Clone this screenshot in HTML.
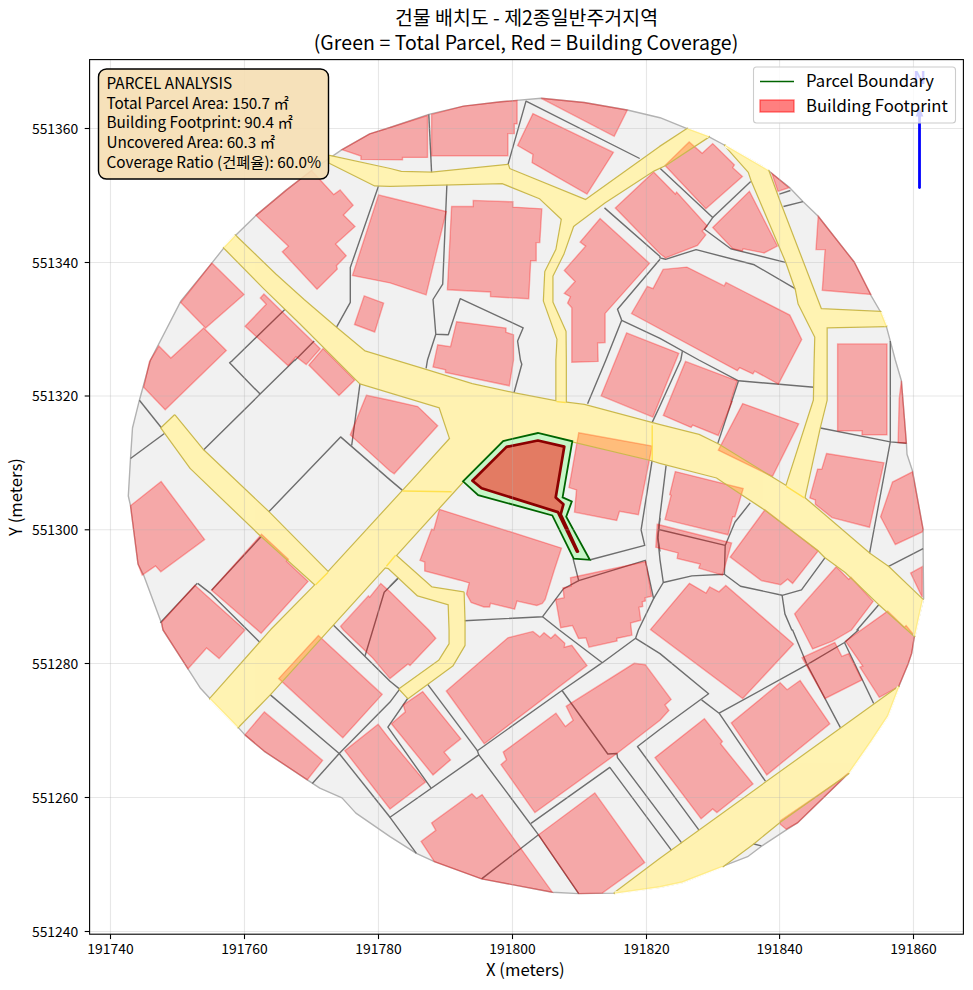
<!DOCTYPE html>
<html><head><meta charset="utf-8"><title>건물 배치도</title>
<style>
html,body{margin:0;padding:0;background:#fff;}
body{width:973px;height:990px;overflow:hidden;position:relative;font-family:'Noto Sans CJK KR','Liberation Sans',sans-serif;}
svg{position:absolute;left:0;top:0;}
text{font-family:'Noto Sans CJK KR','Liberation Sans',sans-serif;fill:#000;}
.bl{fill:rgba(255,0,0,0.3);stroke:rgba(255,0,0,0.3);stroke-width:1.4;stroke-linejoin:miter;}
.rds{fill:#fff3b2;stroke:#c9b850;stroke-width:2.9;stroke-linejoin:round;}
.rdf{fill:#fff3b2;stroke:#fff3b2;stroke-width:0.3;}
.pl{fill:none;stroke:#6e6e6e;stroke-width:1.4;stroke-linejoin:round;stroke-linecap:butt;}
.rl{fill:none;stroke:#ffe14d;stroke-width:1.4;}
.gr{stroke:rgba(176,176,176,0.3);stroke-width:1.1;fill:none;}
.tk{stroke:#000;stroke-width:1.1;}
.tl{font-size:13.9px;letter-spacing:0px;}
</style></head><body>
<svg width="973" height="990" viewBox="0 0 973 990">
<rect width="973" height="990" fill="#fff"/>
<defs><clipPath id="ax"><rect x="89.6" y="59.6" width="873.8" height="874.6"/></clipPath></defs>
<g clip-path="url(#ax)">

<polygon points="390.0,127.5 428.8,114.4 463.5,106.1 501.0,101.7 541.2,98.3 584.2,102.5 627.3,110.0 660.0,117.7 687.7,128.8 708.6,136.6 725.2,145.5 768.2,170.5 789.0,187.1 802.9,201.6 818.2,216.3 854.2,262.0 870.9,295.3 880.6,312.0 886.2,325.9 890.3,341.1 895.3,360.0 901.4,380.8 906.4,443.2 907.0,454.3 912.5,471.0 923.1,529.3 923.1,548.7 923.6,598.6 914.5,635.7 911.7,653.2 908.0,664.3 898.6,686.9 887.5,716.0 870.9,741.0 848.7,772.9 840.4,781.2 797.4,822.9 786.3,829.8 761.5,846.2 747.6,856.7 722.4,866.4 682.2,882.0 660.0,886.7 614.8,893.1 578.7,893.6 552.3,892.2 481.6,878.9 434.4,861.7 416.4,853.4 390.0,836.7 355.9,813.1 342.0,797.9 319.8,788.2 307.3,779.8 264.3,751.3 244.9,734.9 237.9,727.1 210.2,698.8 200.5,688.3 188.0,668.8 163.0,630.0 161.6,623.6 143.6,575.1 138.0,564.0 130.5,505.7 128.3,496.0 130.5,458.5 132.5,428.0 139.4,400.2 150.5,360.0 181.0,300.9 211.6,263.4 224.1,247.6 235.2,235.7 256.0,215.4 286.5,189.9 311.5,170.5 342.0,149.7 369.7,133.8" fill="#f1f1f1" stroke="#b2b2b2" stroke-width="1.4" stroke-linejoin="round"/>
<polyline class="pl" points="378.6,185.7 350.3,267.6 350.3,302.3 336.4,327.3"/>
<polyline class="pl" points="285.1,309.2 232.4,360.6 229.6,362.8 260.1,394.1"/>
<polyline class="pl" points="314.2,341.1 294.8,360.6 294.8,360.0 260.1,394.1 203.2,450.2"/>
<polyline class="pl" points="428.8,114.4 431.6,172.7"/>
<polyline class="pl" points="507.9,164.9 526.0,101.1 639.7,158.5"/>
<polyline class="pl" points="446.9,184.3 442.7,284.2 433.0,299.5 435.8,334.2 448.3,334.7 460.2,298.7 523.2,327.8 517.6,341.1 520.4,360.0 521.8,364.2 514.0,392.7"/>
<polyline class="pl" points="435.8,334.2 427.5,360.0 426.1,368.3"/>
<polyline class="pl" points="604.5,207.9 660.0,256.5 660.0,257.9 665.5,259.3 696.1,249.6 754.3,264.8 796.0,289.2"/>
<polyline class="pl" points="660.0,168.3 712.7,217.6 704.4,229.3 730.8,248.7 786.3,262.6"/>
<polyline class="pl" points="712.7,217.6 750.7,181.6"/>
<polyline class="pl" points="660.0,259.3 617.5,309.2 621.7,320.3 660.0,338.4 698.8,360.0 698.8,360.0 738.5,380.8 814.0,387.2"/>
<polyline class="pl" points="621.7,320.3 605.9,360.0 587.6,403.8"/>
<polyline class="pl" points="779.3,194.1 790.4,190.5"/>
<polyline class="pl" points="783.5,206.5 802.9,201.6"/>
<polyline class="pl" points="890.3,341.1 890.3,360.0 890.3,441.9 869.5,553.7"/>
<polyline class="pl" points="139.4,400.2 161.6,428.0"/>
<polyline class="pl" points="130.5,458.5 164.4,433.5"/>
<polyline class="pl" points="360.0,383.6 351.7,445.5"/>
<polyline class="pl" points="268.5,512.1 340.6,436.9 390.0,479.9 390.0,479.9 402.5,490.4"/>
<polyline class="pl" points="197.7,583.4 210.2,593.1 261.5,643.9"/>
<polyline class="pl" points="261.5,536.2 211.6,590.3"/>
<polyline class="pl" points="390.0,586.2 398.3,577.8"/>
<polyline class="pl" points="399.0,577.4 384.2,592.2 365.1,655.7"/>
<polyline class="pl" points="682.4,351.2 680.8,360.0 660.0,405.8 652.2,422.4 652.2,426.6"/>
<polyline class="pl" points="652.2,459.9 641.1,529.8 644.7,545.4 590.3,559.8"/>
<polyline class="pl" points="573.1,558.7 578.7,580.6 645.3,560.3 653.6,598.6 638.4,630.0 635.6,638.3 602.3,662.7 562.0,690.5 477.4,750.7 478.8,754.9 390.0,817.3 416.4,853.4"/>
<polyline class="pl" points="578.7,580.6 563.4,588.9 542.6,616.7 464.4,620.8"/>
<polyline class="pl" points="542.6,616.7 559.3,630.0 559.3,630.0 602.3,662.7"/>
<polyline class="pl" points="660.0,518.2 657.8,537.6 660.0,551.5"/>
<polyline class="pl" points="738.5,380.8 717.4,444.6"/>
<polyline class="pl" points="820.4,428.0 890.3,441.9 906.4,443.2"/>
<polyline class="pl" points="666.1,465.4 660.0,515.4 657.8,537.6 660.0,559.8 663.3,582.5"/>
<polyline class="pl" points="657.8,529.3 725.2,545.4 724.4,574.2 691.9,575.9 663.3,582.5 653.6,598.6"/>
<polyline class="pl" points="724.4,574.2 740.5,586.2 782.1,595.3 801.5,589.8 825.1,557.6"/>
<polyline class="pl" points="750.2,502.9 734.9,522.3 725.2,545.4"/>
<polyline class="pl" points="782.1,595.3 784.9,613.9 791.8,630.0 792.6,630.0 807.1,664.7 840.4,727.7"/>
<polyline class="pl" points="923.1,548.7 888.1,566.7"/>
<polyline class="pl" points="879.2,604.2 857.0,630.0 858.4,630.0 844.5,642.5 807.1,664.7 719.1,713.2"/>
<polyline class="pl" points="269.8,694.4 339.2,753.5 390.0,702.1 390.0,702.1 399.7,689.1"/>
<polyline class="pl" points="339.2,753.5 312.3,783.5"/>
<polyline class="pl" points="339.2,753.5 390.0,817.3 390.0,817.3"/>
<polyline class="pl" points="333.3,625.1 390.0,681.3 399.7,689.1"/>
<polyline class="pl" points="427.5,684.1 477.4,750.7"/>
<polyline class="pl" points="408.0,698.0 387.9,727.2 431.1,788.2"/>
<polyline class="pl" points="478.8,754.9 538.5,834.8 578.7,893.6"/>
<polyline class="pl" points="538.5,834.8 481.6,878.9"/>
<polyline class="pl" points="531.0,823.4 609.8,767.4 671.7,850.6"/>
<polyline class="pl" points="562.0,690.5 607.8,754.0 617.0,753.5 617.5,757.6 682.2,843.7"/>
<polyline class="pl" points="660.0,729.3 637.5,746.5 698.8,829.8"/>
<polyline class="pl" points="635.6,638.3 660.0,653.6 708.6,693.8 660.0,729.3"/>
<polyline class="pl" points="701.6,699.9 719.1,713.2 765.4,781.2"/>
<polyline class="pl" points="844.5,642.5 873.7,703.5"/>
<polyline class="pl" points="753.0,843.7 761.3,845.9"/>
<polyline class="pl" points="197.3,583.3 160.3,622.7"/>
<polygon points="329.5,156.0 390.0,169.1 401.1,171.9 431.6,172.7 507.9,164.9 509.3,169.1 585.6,200.2 660.0,146.9 687.7,128.8 708.6,136.6 665.5,164.9 653.6,170.5 604.5,202.4 573.1,226.0 562.0,219.0 539.8,198.2 502.4,183.0 390.0,185.7 374.5,185.2 329.5,162.7" fill="#fff" stroke="#fff" stroke-width="0.4"/>
<polygon points="564.8,212.1 574.5,219.0 573.1,226.0 563.4,253.7 552.3,275.9 552.3,302.3 565.4,331.4 565.7,360.0 565.7,402.5 556.5,401.6 556.5,360.0 557.6,339.2 544.0,300.9 545.4,271.8 556.5,249.6 562.0,219.0" fill="#fff" stroke="#fff" stroke-width="0.4"/>
<polygon points="235.2,235.7 275.4,274.5 303.7,300.0 336.1,327.7 364.7,351.4 425.8,369.9 472.0,384.2 513.5,393.3 556.5,401.6 584.2,405.0 660.0,425.2 698.8,434.9 718.3,444.6 786.3,486.3 804.3,497.9 869.5,553.7 888.1,566.7 922.4,599.6 914.5,635.7 879.2,604.2 845.9,572.3 825.1,557.0 818.2,550.1 765.4,509.8 728.0,484.9 716.9,477.4 660.0,462.7 650.8,459.9 572.3,441.3 537.9,433.0 503.2,441.0 463.0,481.3 450.2,438.7 439.7,407.3 360.1,383.2 300.0,323.1 264.3,288.4 224.1,247.6" fill="#fff" stroke="#fff" stroke-width="0.4"/>
<polygon points="450.2,438.7 412.8,480.0 328.1,572.3 315.6,584.8 271.2,630.0 210.2,698.8 237.9,727.1 269.8,694.4 328.1,630.0 463.0,481.3 481.6,443.2" fill="#fff" stroke="#fff" stroke-width="0.4"/>
<polygon points="161.6,428.0 174.7,415.5 203.2,450.2 268.5,512.1 328.1,572.3 315.6,584.8 260.1,534.8 190.8,468.2" fill="#fff" stroke="#fff" stroke-width="0.4"/>
<polygon points="383.1,564.0 392.8,552.9 431.6,587.5 463.5,592.5 464.4,620.8 464.4,630.0 464.4,645.3 452.4,665.5 408.0,698.0 399.7,689.1 439.4,660.5 449.7,643.9 449.7,630.0 448.8,604.2 417.7,595.3 388.6,568.1 383.1,566.7" fill="#fff" stroke="#fff" stroke-width="0.4"/>
<polygon points="725.2,145.5 768.2,170.5 779.3,201.0 820.9,309.2 880.6,312.0 886.2,325.9 826.5,327.3 826.5,360.0 826.5,400.2 819.6,428.0 804.3,497.9 786.3,486.3 814.0,400.2 814.8,360.0 815.4,337.0 798.7,303.7 796.0,289.8 786.3,262.0 751.6,180.2 748.8,171.9" fill="#fff" stroke="#fff" stroke-width="0.4"/>
<polygon points="660.0,858.9 898.6,686.9 887.5,716.0 870.9,741.0 848.7,772.9 780.2,821.5 753.0,843.7 722.4,866.4 682.2,882.0 660.0,886.7 614.8,893.1" fill="#fff" stroke="#fff" stroke-width="0.4"/>
<polygon class="bl" points="256.0,215.4 286.5,189.9 311.5,170.5 333.7,194.6 340.1,189.9 353.1,205.2 343.4,214.9 355.0,226.5 335.6,244.0 346.2,255.7 336.4,265.7 337.3,269.0 317.0,289.2 282.3,251.8 288.4,246.2"/>
<polygon class="bl" points="211.9,263.1 244.0,294.5 205.6,328.0 180.7,302.5"/>
<polygon class="bl" points="364.2,295.9 383.6,303.1 374.7,332.0 354.5,324.5"/>
<polygon class="bl" points="342.0,149.7 369.7,133.8 390.0,127.5 427.5,115.5 427.5,157.4 402.5,157.4 402.5,159.9 360.9,159.4 360.9,156.0"/>
<polygon class="bl" points="378.6,194.9 390.0,197.7 446.3,211.5 426.1,294.8 390.0,282.9 352.5,275.4"/>
<polygon class="bl" points="431.6,114.4 463.5,106.1 501.0,101.7 517.1,100.5 517.1,123.9 514.3,123.9 514.3,133.6 507.9,133.6 507.9,155.8 431.6,155.8"/>
<polygon class="bl" points="532.9,113.6 613.4,152.4 587.0,194.1 532.1,162.7 532.9,154.4 517.6,145.5"/>
<polygon class="bl" points="541.2,98.3 584.2,102.5 627.3,110.0 614.2,136.3"/>
<polygon class="bl" points="451.6,206.5 473.2,206.5 473.2,200.4 512.9,201.8 512.9,207.1 541.8,208.8 539.8,242.6 536.2,242.6 536.2,260.7 530.7,260.7 528.7,298.7 490.5,296.7 490.5,292.0 447.4,289.8"/>
<polygon class="bl" points="600.1,218.5 649.5,263.4 605.1,313.4 605.1,342.5 597.6,343.1 598.1,360.0 598.1,361.4 571.8,362.2 571.8,360.0 571.8,307.8 567.6,303.1 570.4,296.7 564.3,293.4 575.1,281.5 564.3,270.4 585.6,246.2 580.1,242.1"/>
<polygon class="bl" points="456.6,321.7 506.0,328.1 506.0,332.3 513.5,334.7 513.5,360.0 509.3,385.8 445.5,372.5 445.5,369.7 433.0,366.9 437.7,344.7 450.5,346.7"/>
<polygon class="bl" points="653.6,171.9 615.3,207.9 660.0,253.7 665.5,257.9 697.5,245.4 705.8,234.9 702.2,231.0 707.2,226.0 676.6,192.1 675.3,194.1"/>
<polygon class="bl" points="626.6,332.9 678.8,353.3 652.9,417.1 601.1,395.8"/>
<polygon class="bl" points="689.1,141.9 702.2,153.3 712.7,143.6 734.4,164.9 732.7,167.7 742.4,176.6 705.8,208.8 665.0,165.5"/>
<polygon class="bl" points="749.4,191.3 777.4,246.0 764.1,252.9 743.2,248.7 742.4,250.9 732.7,248.7 712.7,227.4"/>
<polygon class="bl" points="771.8,173.2 789.0,187.7 777.9,191.3"/>
<polygon class="bl" points="818.2,216.3 854.2,262.0 870.9,294.5 822.3,290.3 825.1,249.6 816.0,249.6"/>
<polygon class="bl" points="631.5,313.5 647.3,286.4 653.0,288.6 663.1,269.4 686.9,267.1 724.2,285.9 726.0,282.5 745.7,292.5 789.8,315.1 801.7,339.5 778.4,384.0 754.7,371.1 752.9,373.9 739.6,367.7 737.3,370.7"/>
<polygon class="bl" points="837.6,343.9 887.0,343.9 887.0,434.9 862.0,434.9 862.0,430.8 837.6,430.8"/>
<polygon class="bl" points="158.9,346.0 170.9,358.0 203.7,327.9 226.3,350.5 165.2,409.8 143.7,387.2 149.4,361.8"/>
<polygon class="bl" points="161.1,481.5 204.6,539.5 160.8,571.7 155.5,565.9 142.2,575.1 138.0,564.0 130.5,505.7"/>
<polygon class="bl" points="261.5,534.3 288.4,559.2 286.5,561.2 308.1,581.4 261.1,633.2 211.6,590.3"/>
<polygon class="bl" points="194.9,585.3 244.9,630.0 219.1,658.6 206.6,648.0 188.0,668.8 163.0,630.0 161.6,622.2"/>
<polygon class="bl" points="323.1,348.6 354.8,380.0 339.0,395.4 308.9,365.1"/>
<polygon class="bl" points="263.9,294.1 320.2,348.8 306.2,364.6 296.0,356.7 288.1,365.8 245.1,326.2 266.2,304.3 260.3,297.9"/>
<polygon class="bl" points="366.4,395.2 390.0,400.2 417.7,406.6 437.7,425.8 394.2,473.8 390.0,471.0 350.3,434.9"/>
<polygon class="bl" points="380.8,583.4 390.0,591.7 428.8,630.0 435.8,638.3 410.0,665.5 408.0,663.9 390.0,678.6 372.5,657.7 343.4,630.0 340.6,626.4 368.4,595.9 369.7,597.3"/>
<polygon class="bl" points="578.7,432.7 652.2,446.0 638.4,514.8 619.5,511.2 616.7,520.4 574.5,512.1 576.5,489.9 569.0,487.6"/>
<polygon class="bl" points="439.4,509.3 561.5,548.1 554.3,570.0 545.1,599.6 542.3,603.3 536.8,605.5 517.0,601.1 514.6,609.2 490.5,603.3 489.6,607.0 484.0,607.0 471.1,602.4 466.5,594.0 469.2,582.9 460.0,580.2 424.7,570.9 424.7,562.0 420.0,560.3 431.6,529.3 433.8,529.8"/>
<polygon class="bl" points="570.5,577.7 645.8,561.5 651.6,596.2 645.1,597.7 645.4,600.9 642.3,601.8 642.7,606.4 639.0,607.3 640.8,620.3 630.6,623.1 631.9,635.1 616.8,638.4 617.1,641.0 589.0,647.1 585.9,637.9 578.5,638.4 572.4,625.5 560.7,627.7 555.7,599.6 564.0,597.7 563.1,587.9 571.1,586.1"/>
<polygon class="bl" points="685.5,361.4 737.1,380.8 730.8,401.1 732.1,401.6 718.3,435.5 692.7,425.2 691.1,427.4 663.3,415.5"/>
<polygon class="bl" points="742.7,403.6 798.7,423.8 772.4,476.5 718.3,450.2"/>
<polygon class="bl" points="901.4,380.8 906.4,443.2 898.1,442.7 899.2,398.8"/>
<polygon class="bl" points="826.5,453.5 883.9,462.7 869.5,527.3 832.0,517.6 815.4,504.3 815.4,500.1 809.8,497.9 817.6,469.1 821.8,469.1"/>
<polygon class="bl" points="912.5,471.8 923.1,529.3 922.2,532.0 895.3,544.5 880.6,516.8 892.5,482.1"/>
<polygon class="bl" points="675.3,471.6 743.2,488.5 734.9,516.8 732.7,516.8 728.0,534.8 665.0,519.6 671.1,495.4 669.7,494.6"/>
<polygon class="bl" points="657.2,524.3 731.6,543.1 722.4,575.1 698.8,568.1 700.2,564.0 677.2,558.4 678.0,552.9 655.8,547.3"/>
<polygon class="bl" points="764.9,509.8 818.2,550.9 792.6,583.4 787.6,579.2 780.7,584.8 761.3,580.6 730.2,557.0"/>
<polygon class="bl" points="689.4,583.3 706.0,593.1 709.7,587.0 719.0,591.8 725.8,585.4 793.5,644.0 742.7,698.6 650.5,629.6"/>
<polygon class="bl" points="836.2,566.7 848.7,579.2 850.9,577.3 873.1,601.4 851.5,630.0 832.6,641.1 812.6,648.9 802.9,630.0 794.6,613.9"/>
<polygon class="bl" points="887.6,611.1 904.3,627.3 906.1,625.5 914.5,635.7 911.7,653.2 908.0,664.3 898.4,686.9 879.3,697.3 859.9,667.1 862.7,666.2 845.5,641.2"/>
<polygon class="bl" points="922.2,566.7 910.6,573.1 922.2,597.3"/>
<polygon class="bl" points="318.4,635.5 382.2,694.4 342.8,737.7 278.7,678.6"/>
<polygon class="bl" points="264.3,711.9 322.6,760.4 307.3,779.8 264.3,751.3 244.9,734.9"/>
<polygon class="bl" points="378.1,724.3 344.8,750.7 390.0,809.0 425.5,782.1 390.0,739.6"/>
<polygon class="bl" points="422.7,691.6 460.8,738.8 444.1,752.1 450.5,759.9 433.0,774.9 391.4,723.8 405.3,711.9 403.3,704.9"/>
<polygon class="bl" points="446.3,691.0 507.9,637.8 532.9,631.4 539.8,636.9 544.0,632.8 550.9,638.3 555.1,634.2 564.8,643.3 564.3,647.2 571.8,645.3 587.0,665.5 484.3,743.8"/>
<polygon class="bl" points="555.9,713.2 565.4,726.6 573.1,720.2 566.2,706.3 571.8,702.7 634.2,663.3 645.3,664.7 671.1,699.4 665.0,704.9 668.9,710.5 660.0,720.2 616.2,754.0 534.9,812.6 501.0,764.6 506.5,759.9 503.2,752.1"/>
<polygon class="bl" points="594.8,792.9 644.7,862.5 602.3,893.1 578.7,893.6 538.5,834.8"/>
<polygon class="bl" points="471.9,793.7 476.6,798.4 482.1,794.6 552.3,892.2 481.6,878.9 434.4,861.7 421.1,841.4 435.8,830.3 431.6,822.9"/>
<polygon class="bl" points="780.2,682.7 787.1,689.7 800.1,680.5 829.8,723.8 766.8,774.9 731.3,723.0"/>
<polygon class="bl" points="704.4,718.8 722.4,741.6 720.5,743.8 753.0,784.0 716.9,812.6 712.7,809.0 701.1,818.7 655.0,757.6"/>
<polygon class="bl" points="802.1,657.7 834.8,642.5 841.8,656.4 848.7,653.6 862.0,679.9 825.1,698.5"/>
<polygon class="bl" points="780.2,820.9 840.4,779.8 848.7,772.9 840.4,781.2 797.4,822.9 786.3,829.2 780.2,824.2"/>
<mask id="rm" maskUnits="userSpaceOnUse" x="0" y="0" width="973" height="990"><rect width="973" height="990" fill="#fff"/><g fill="#000" stroke="none">
<polygon points="329.5,156.0 390.0,169.1 401.1,171.9 431.6,172.7 507.9,164.9 509.3,169.1 585.6,200.2 660.0,146.9 687.7,128.8 708.6,136.6 665.5,164.9 653.6,170.5 604.5,202.4 573.1,226.0 562.0,219.0 539.8,198.2 502.4,183.0 390.0,185.7 374.5,185.2 329.5,162.7"/>
<polygon points="564.8,212.1 574.5,219.0 573.1,226.0 563.4,253.7 552.3,275.9 552.3,302.3 565.4,331.4 565.7,360.0 565.7,402.5 556.5,401.6 556.5,360.0 557.6,339.2 544.0,300.9 545.4,271.8 556.5,249.6 562.0,219.0"/>
<polygon points="235.2,235.7 275.4,274.5 303.7,300.0 336.1,327.7 364.7,351.4 425.8,369.9 472.0,384.2 513.5,393.3 556.5,401.6 584.2,405.0 660.0,425.2 698.8,434.9 718.3,444.6 786.3,486.3 804.3,497.9 869.5,553.7 888.1,566.7 922.4,599.6 914.5,635.7 879.2,604.2 845.9,572.3 825.1,557.0 818.2,550.1 765.4,509.8 728.0,484.9 716.9,477.4 660.0,462.7 650.8,459.9 572.3,441.3 537.9,433.0 503.2,441.0 463.0,481.3 450.2,438.7 439.7,407.3 360.1,383.2 300.0,323.1 264.3,288.4 224.1,247.6"/>
<polygon points="450.2,438.7 412.8,480.0 328.1,572.3 315.6,584.8 271.2,630.0 210.2,698.8 237.9,727.1 269.8,694.4 328.1,630.0 463.0,481.3 481.6,443.2"/>
<polygon points="161.6,428.0 174.7,415.5 203.2,450.2 268.5,512.1 328.1,572.3 315.6,584.8 260.1,534.8 190.8,468.2"/>
<polygon points="383.1,564.0 392.8,552.9 431.6,587.5 463.5,592.5 464.4,620.8 464.4,630.0 464.4,645.3 452.4,665.5 408.0,698.0 399.7,689.1 439.4,660.5 449.7,643.9 449.7,630.0 448.8,604.2 417.7,595.3 388.6,568.1 383.1,566.7"/>
<polygon points="725.2,145.5 768.2,170.5 779.3,201.0 820.9,309.2 880.6,312.0 886.2,325.9 826.5,327.3 826.5,360.0 826.5,400.2 819.6,428.0 804.3,497.9 786.3,486.3 814.0,400.2 814.8,360.0 815.4,337.0 798.7,303.7 796.0,289.8 786.3,262.0 751.6,180.2 748.8,171.9"/>
<polygon points="660.0,858.9 898.6,686.9 887.5,716.0 870.9,741.0 848.7,772.9 780.2,821.5 753.0,843.7 722.4,866.4 682.2,882.0 660.0,886.7 614.8,893.1"/>
</g></mask>
<g mask="url(#rm)" fill="none" stroke="#c9b850" stroke-width="2.5" stroke-linejoin="round">
<polygon points="329.5,156.0 390.0,169.1 401.1,171.9 431.6,172.7 507.9,164.9 509.3,169.1 585.6,200.2 660.0,146.9 687.7,128.8 708.6,136.6 665.5,164.9 653.6,170.5 604.5,202.4 573.1,226.0 562.0,219.0 539.8,198.2 502.4,183.0 390.0,185.7 374.5,185.2 329.5,162.7"/>
<polygon points="564.8,212.1 574.5,219.0 573.1,226.0 563.4,253.7 552.3,275.9 552.3,302.3 565.4,331.4 565.7,360.0 565.7,402.5 556.5,401.6 556.5,360.0 557.6,339.2 544.0,300.9 545.4,271.8 556.5,249.6 562.0,219.0"/>
<polygon points="235.2,235.7 275.4,274.5 303.7,300.0 336.1,327.7 364.7,351.4 425.8,369.9 472.0,384.2 513.5,393.3 556.5,401.6 584.2,405.0 660.0,425.2 698.8,434.9 718.3,444.6 786.3,486.3 804.3,497.9 869.5,553.7 888.1,566.7 922.4,599.6 914.5,635.7 879.2,604.2 845.9,572.3 825.1,557.0 818.2,550.1 765.4,509.8 728.0,484.9 716.9,477.4 660.0,462.7 650.8,459.9 572.3,441.3 537.9,433.0 503.2,441.0 463.0,481.3 450.2,438.7 439.7,407.3 360.1,383.2 300.0,323.1 264.3,288.4 224.1,247.6"/>
<polygon points="450.2,438.7 412.8,480.0 328.1,572.3 315.6,584.8 271.2,630.0 210.2,698.8 237.9,727.1 269.8,694.4 328.1,630.0 463.0,481.3 481.6,443.2"/>
<polygon points="161.6,428.0 174.7,415.5 203.2,450.2 268.5,512.1 328.1,572.3 315.6,584.8 260.1,534.8 190.8,468.2"/>
<polygon points="383.1,564.0 392.8,552.9 431.6,587.5 463.5,592.5 464.4,620.8 464.4,630.0 464.4,645.3 452.4,665.5 408.0,698.0 399.7,689.1 439.4,660.5 449.7,643.9 449.7,630.0 448.8,604.2 417.7,595.3 388.6,568.1 383.1,566.7"/>
<polygon points="725.2,145.5 768.2,170.5 779.3,201.0 820.9,309.2 880.6,312.0 886.2,325.9 826.5,327.3 826.5,360.0 826.5,400.2 819.6,428.0 804.3,497.9 786.3,486.3 814.0,400.2 814.8,360.0 815.4,337.0 798.7,303.7 796.0,289.8 786.3,262.0 751.6,180.2 748.8,171.9"/>
<polygon points="660.0,858.9 898.6,686.9 887.5,716.0 870.9,741.0 848.7,772.9 780.2,821.5 753.0,843.7 722.4,866.4 682.2,882.0 660.0,886.7 614.8,893.1"/>
</g>
<polyline points="224.1,247.6 235.2,235.7" fill="none" stroke="#ffffff" stroke-width="3.2" stroke-linecap="butt"/>
<polyline points="687.7,128.8 708.6,136.6" fill="none" stroke="#ffffff" stroke-width="3.2" stroke-linecap="butt"/>
<polyline points="725.2,145.5 768.2,170.5" fill="none" stroke="#ffffff" stroke-width="3.2" stroke-linecap="butt"/>
<polyline points="880.6,312.0 886.2,325.9" fill="none" stroke="#ffffff" stroke-width="3.2" stroke-linecap="butt"/>
<polyline points="922.4,599.6 914.5,635.7" fill="none" stroke="#ffffff" stroke-width="3.2" stroke-linecap="butt"/>
<polyline points="898.6,686.9 887.5,716.0 870.9,741.0 848.7,772.9" fill="none" stroke="#ffffff" stroke-width="3.2" stroke-linecap="butt"/>
<polyline points="722.4,866.4 682.2,882.0 660.0,886.7 614.8,893.1" fill="none" stroke="#ffffff" stroke-width="3.2" stroke-linecap="butt"/>
<polyline points="210.2,698.8 237.9,727.1" fill="none" stroke="#ffffff" stroke-width="3.2" stroke-linecap="butt"/>
<g opacity="0.3" fill="#ffd700" stroke="#ffd700" stroke-width="0.4">
<polygon points="329.5,156.0 390.0,169.1 401.1,171.9 431.6,172.7 507.9,164.9 509.3,169.1 585.6,200.2 660.0,146.9 687.7,128.8 708.6,136.6 665.5,164.9 653.6,170.5 604.5,202.4 573.1,226.0 562.0,219.0 539.8,198.2 502.4,183.0 390.0,185.7 374.5,185.2 329.5,162.7"/>
<polygon points="564.8,212.1 574.5,219.0 573.1,226.0 563.4,253.7 552.3,275.9 552.3,302.3 565.4,331.4 565.7,360.0 565.7,402.5 556.5,401.6 556.5,360.0 557.6,339.2 544.0,300.9 545.4,271.8 556.5,249.6 562.0,219.0"/>
<polygon points="235.2,235.7 275.4,274.5 303.7,300.0 336.1,327.7 364.7,351.4 425.8,369.9 472.0,384.2 513.5,393.3 556.5,401.6 584.2,405.0 660.0,425.2 698.8,434.9 718.3,444.6 786.3,486.3 804.3,497.9 869.5,553.7 888.1,566.7 922.4,599.6 914.5,635.7 879.2,604.2 845.9,572.3 825.1,557.0 818.2,550.1 765.4,509.8 728.0,484.9 716.9,477.4 660.0,462.7 650.8,459.9 572.3,441.3 537.9,433.0 503.2,441.0 463.0,481.3 450.2,438.7 439.7,407.3 360.1,383.2 300.0,323.1 264.3,288.4 224.1,247.6"/>
<polygon points="450.2,438.7 412.8,480.0 328.1,572.3 315.6,584.8 271.2,630.0 210.2,698.8 237.9,727.1 269.8,694.4 328.1,630.0 463.0,481.3 481.6,443.2"/>
<polygon points="161.6,428.0 174.7,415.5 203.2,450.2 268.5,512.1 328.1,572.3 315.6,584.8 260.1,534.8 190.8,468.2"/>
<polygon points="383.1,564.0 392.8,552.9 431.6,587.5 463.5,592.5 464.4,620.8 464.4,630.0 464.4,645.3 452.4,665.5 408.0,698.0 399.7,689.1 439.4,660.5 449.7,643.9 449.7,630.0 448.8,604.2 417.7,595.3 388.6,568.1 383.1,566.7"/>
<polygon points="725.2,145.5 768.2,170.5 779.3,201.0 820.9,309.2 880.6,312.0 886.2,325.9 826.5,327.3 826.5,360.0 826.5,400.2 819.6,428.0 804.3,497.9 786.3,486.3 814.0,400.2 814.8,360.0 815.4,337.0 798.7,303.7 796.0,289.8 786.3,262.0 751.6,180.2 748.8,171.9"/>
<polygon points="660.0,858.9 898.6,686.9 887.5,716.0 870.9,741.0 848.7,772.9 780.2,821.5 753.0,843.7 722.4,866.4 682.2,882.0 660.0,886.7 614.8,893.1"/>
</g>
<polyline points="224.1,247.6 235.2,235.7" fill="none" stroke="rgba(255,215,0,0.3)" stroke-width="1.4" stroke-linecap="butt"/>
<polyline points="687.7,128.8 708.6,136.6" fill="none" stroke="rgba(255,215,0,0.3)" stroke-width="1.4" stroke-linecap="butt"/>
<polyline points="725.2,145.5 768.2,170.5" fill="none" stroke="rgba(255,215,0,0.3)" stroke-width="1.4" stroke-linecap="butt"/>
<polyline points="880.6,312.0 886.2,325.9" fill="none" stroke="rgba(255,215,0,0.3)" stroke-width="1.4" stroke-linecap="butt"/>
<polyline points="922.4,599.6 914.5,635.7" fill="none" stroke="rgba(255,215,0,0.3)" stroke-width="1.4" stroke-linecap="butt"/>
<polyline points="898.6,686.9 887.5,716.0 870.9,741.0 848.7,772.9" fill="none" stroke="rgba(255,215,0,0.3)" stroke-width="1.4" stroke-linecap="butt"/>
<polyline points="722.4,866.4 682.2,882.0 660.0,886.7 614.8,893.1" fill="none" stroke="rgba(255,215,0,0.3)" stroke-width="1.4" stroke-linecap="butt"/>
<polyline points="210.2,698.8 237.9,727.1" fill="none" stroke="rgba(255,215,0,0.3)" stroke-width="1.4" stroke-linecap="butt"/>
<polyline class="rl" points="652.2,425.2 652.2,459.9"/>
<polyline class="rl" points="402.5,491.0 451.6,491.8"/>
<polyline class="rl" points="315.6,584.8 328.1,572.3"/>
<polyline class="rl" points="786.3,486.3 804.3,497.9"/>
<polyline class="rl" points="556.5,401.6 565.7,402.5"/>
<polyline class="rl" points="395.6,555.2 386.4,566.3"/>
<polygon points="463.0,481.3 503.2,441.0 537.9,433.0 572.3,441.3 562.6,497.4 571.8,501.5 566.2,516.8 589.8,559.8 573.7,558.7 552.3,515.4 478.2,495.1" fill="#fff"/>
<polygon points="463.0,481.3 503.2,441.0 537.9,433.0 572.3,441.3 562.6,497.4 571.8,501.5 566.2,516.8 589.8,559.8 573.7,558.7 552.3,515.4 478.2,495.1" fill="rgba(144,238,144,0.5)" stroke="#006400" stroke-width="1.8" stroke-linejoin="miter"/>
<polygon points="472.4,480.7 506.5,446.9 537.9,440.5 564.3,446.6 555.7,497.4 563.4,504.3 560.7,514.3 577.9,551.5 577.0,551.7 557.9,512.1 481.6,488.2" fill="rgba(255,0,0,0.5)" stroke="#8b0000" stroke-width="2.7" stroke-linejoin="round"/>
<line class="gr" x1="110.5" y1="59.6" x2="110.5" y2="934.2"/>
<line class="gr" x1="244.5" y1="59.6" x2="244.5" y2="934.2"/>
<line class="gr" x1="378.5" y1="59.6" x2="378.5" y2="934.2"/>
<line class="gr" x1="512.5" y1="59.6" x2="512.5" y2="934.2"/>
<line class="gr" x1="646.5" y1="59.6" x2="646.5" y2="934.2"/>
<line class="gr" x1="779.6" y1="59.6" x2="779.6" y2="934.2"/>
<line class="gr" x1="913.5" y1="59.6" x2="913.5" y2="934.2"/>
<line class="gr" x1="89.6" y1="931.5" x2="963.4" y2="931.5"/>
<line class="gr" x1="89.6" y1="797.5" x2="963.4" y2="797.5"/>
<line class="gr" x1="89.6" y1="663.5" x2="963.4" y2="663.5"/>
<line class="gr" x1="89.6" y1="529.8" x2="963.4" y2="529.8"/>
<line class="gr" x1="89.6" y1="396.0" x2="963.4" y2="396.0"/>
<line class="gr" x1="89.6" y1="262.5" x2="963.4" y2="262.5"/>
<line class="gr" x1="89.6" y1="128.5" x2="963.4" y2="128.5"/>
<line x1="919.5" y1="187.5" x2="919.5" y2="114" stroke="#0000ff" stroke-width="2.8" stroke-linecap="round"/>
<polygon points="919.5,107 915.6,116.5 923.4,116.5" fill="#0000ff"/>
<text x="919.5" y="84" text-anchor="middle" font-size="16.7" font-weight="bold" style="fill:#0000ff">N</text>
</g>
<rect x="89.6" y="59.6" width="873.8" height="874.6" fill="none" stroke="#000" stroke-width="1.1"/>
<line class="tk" x1="110.5" y1="934.2" x2="110.5" y2="939.1"/>
<text class="tl" x="110.5" y="953.8" text-anchor="middle" letter-spacing="-0.2">191740</text>
<line class="tk" x1="244.5" y1="934.2" x2="244.5" y2="939.1"/>
<text class="tl" x="244.5" y="953.8" text-anchor="middle" letter-spacing="-0.2">191760</text>
<line class="tk" x1="378.5" y1="934.2" x2="378.5" y2="939.1"/>
<text class="tl" x="378.5" y="953.8" text-anchor="middle" letter-spacing="-0.2">191780</text>
<line class="tk" x1="512.5" y1="934.2" x2="512.5" y2="939.1"/>
<text class="tl" x="512.5" y="953.8" text-anchor="middle" letter-spacing="-0.2">191800</text>
<line class="tk" x1="646.5" y1="934.2" x2="646.5" y2="939.1"/>
<text class="tl" x="646.5" y="953.8" text-anchor="middle" letter-spacing="-0.2">191820</text>
<line class="tk" x1="779.6" y1="934.2" x2="779.6" y2="939.1"/>
<text class="tl" x="779.6" y="953.8" text-anchor="middle" letter-spacing="-0.2">191840</text>
<line class="tk" x1="913.5" y1="934.2" x2="913.5" y2="939.1"/>
<text class="tl" x="913.5" y="953.8" text-anchor="middle" letter-spacing="-0.2">191860</text>
<line class="tk" x1="84.69999999999999" y1="931.5" x2="89.6" y2="931.5"/>
<text class="tl" x="78.2" y="936.6" text-anchor="end">551240</text>
<line class="tk" x1="84.69999999999999" y1="797.5" x2="89.6" y2="797.5"/>
<text class="tl" x="78.2" y="802.6" text-anchor="end">551260</text>
<line class="tk" x1="84.69999999999999" y1="663.5" x2="89.6" y2="663.5"/>
<text class="tl" x="78.2" y="668.6" text-anchor="end">551280</text>
<line class="tk" x1="84.69999999999999" y1="529.8" x2="89.6" y2="529.8"/>
<text class="tl" x="78.2" y="534.9" text-anchor="end">551300</text>
<line class="tk" x1="84.69999999999999" y1="396.0" x2="89.6" y2="396.0"/>
<text class="tl" x="78.2" y="401.1" text-anchor="end">551320</text>
<line class="tk" x1="84.69999999999999" y1="262.5" x2="89.6" y2="262.5"/>
<text class="tl" x="78.2" y="267.6" text-anchor="end">551340</text>
<line class="tk" x1="84.69999999999999" y1="128.5" x2="89.6" y2="128.5"/>
<text class="tl" x="78.2" y="133.6" text-anchor="end">551360</text>
<text x="525.3" y="976" text-anchor="middle" font-size="16.7">X (meters)</text>
<text transform="translate(22,497) rotate(-90)" text-anchor="middle" font-size="16.7">Y (meters)</text>
<text x="526.5" y="25" text-anchor="middle" font-size="19.45">건물 배치도 - 제2종일반주거지역</text>
<text x="526" y="50" text-anchor="middle" font-size="19.45" letter-spacing="0.1">(Green = Total Parcel, Red = Building Coverage)</text>
<rect x="98.5" y="69" width="230" height="110" rx="8" ry="8" fill="rgba(245,222,179,0.9)" stroke="#000" stroke-width="1.4"/>
<text x="106.5" y="89.0" font-size="15.3" >PARCEL ANALYSIS</text>
<text x="106.5" y="108.7" font-size="15.3" >Total Parcel Area: 150.7 ㎡</text>
<text x="106.5" y="128.4" font-size="15.3" >Building Footprint: 90.4 ㎡</text>
<text x="106.5" y="148.1" font-size="15.3" >Uncovered Area: 60.3 ㎡</text>
<text x="106.5" y="167.8" font-size="15.3" >Coverage Ratio (건폐율): 60.0%</text>
<rect x="753.5" y="67" width="202" height="56" rx="3" ry="3" fill="rgba(255,255,255,0.8)" stroke="#cccccc" stroke-width="1.1"/>
<line x1="760" y1="81.5" x2="794" y2="81.5" stroke="#006400" stroke-width="1.4"/>
<rect x="760" y="100" width="34" height="12" fill="rgba(255,0,0,0.5)" stroke="rgba(255,0,0,0.5)" stroke-width="1.4"/>
<text x="806" y="87" font-size="16.7">Parcel Boundary</text>
<text x="806" y="111.8" font-size="16.7">Building Footprint</text>
</svg></body></html>
